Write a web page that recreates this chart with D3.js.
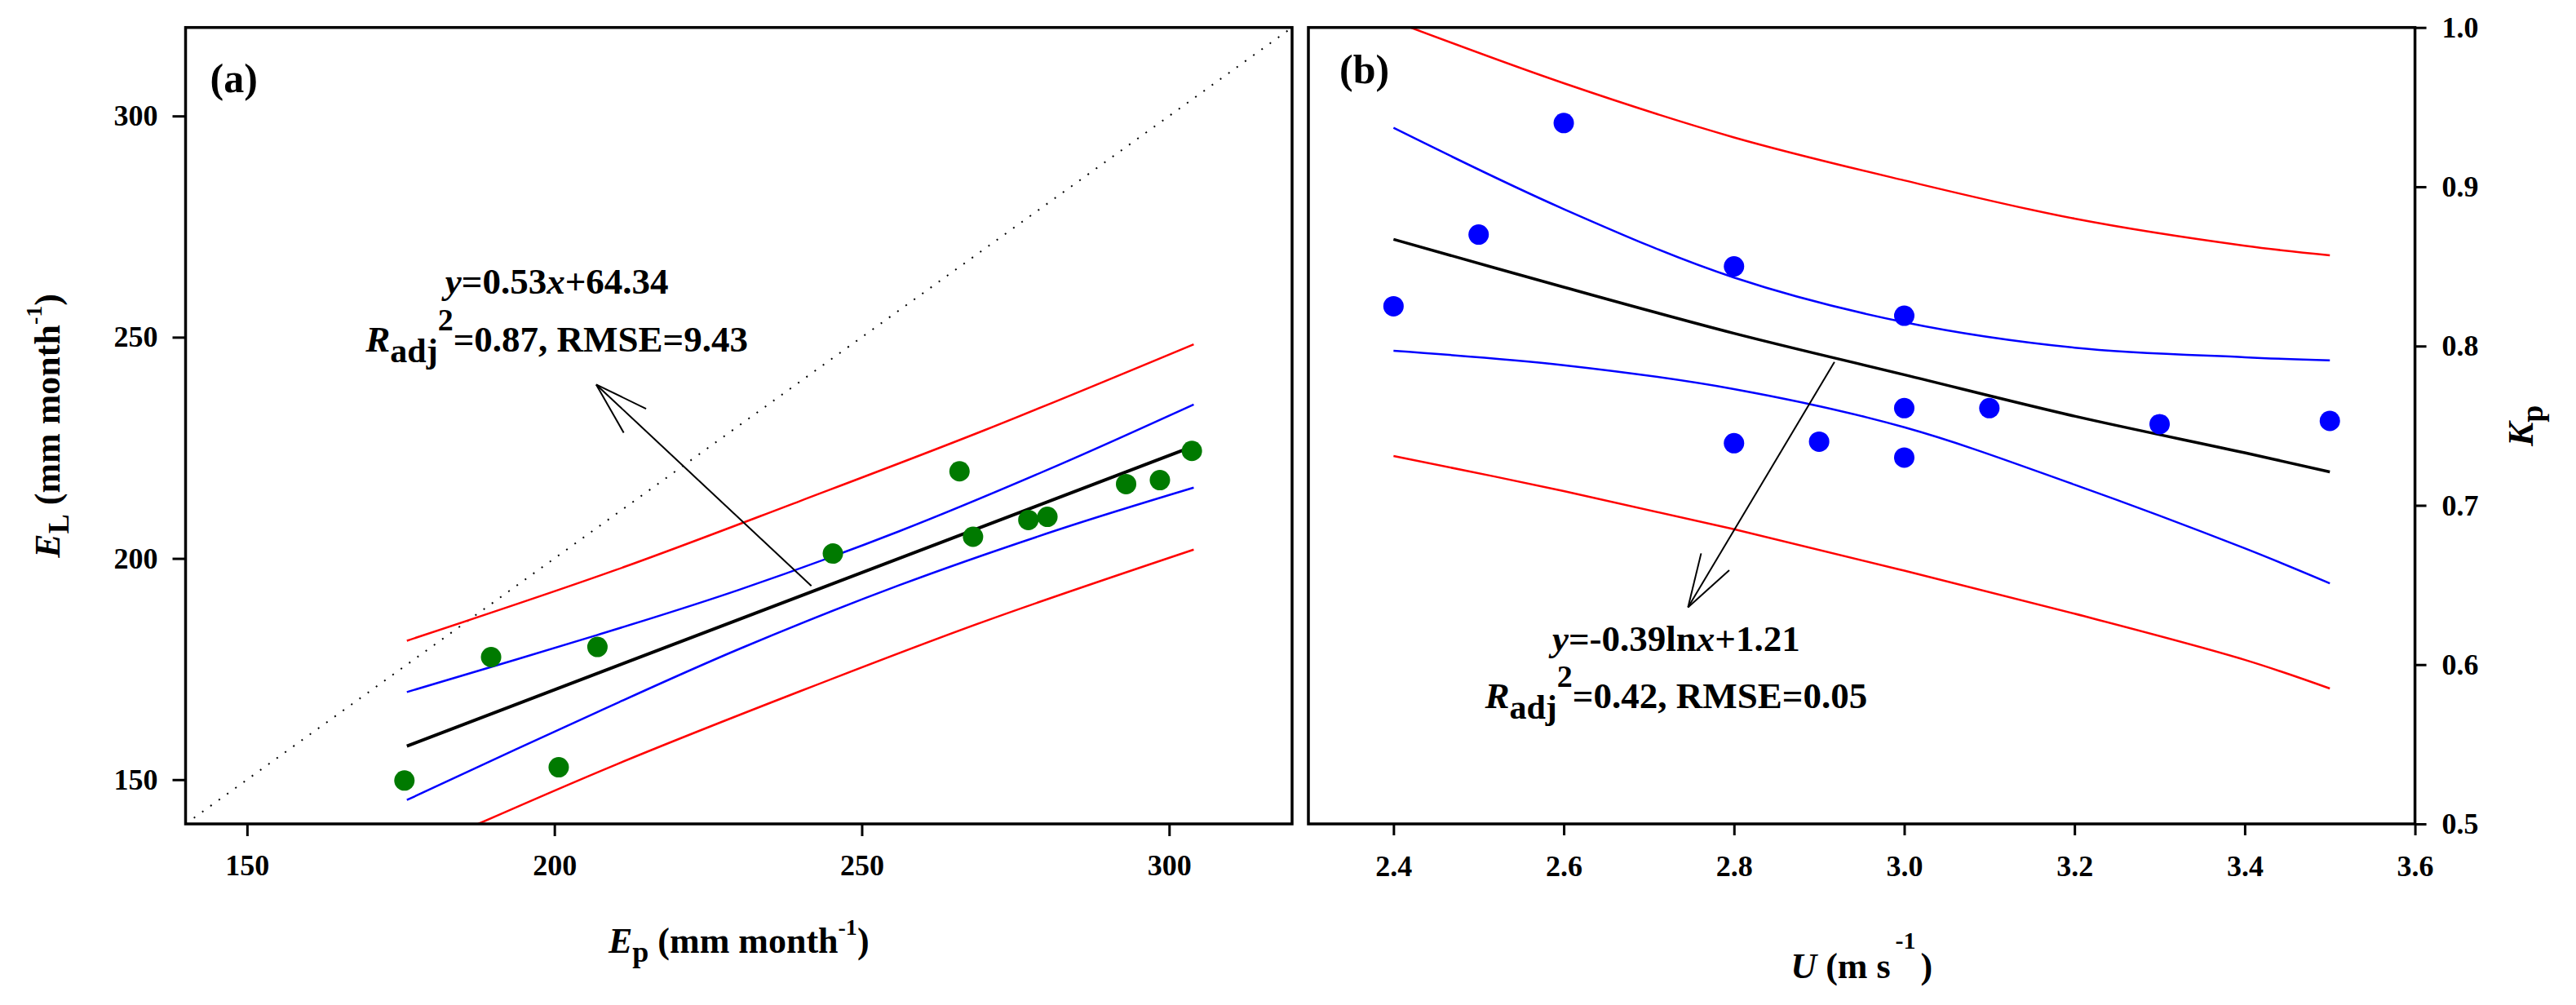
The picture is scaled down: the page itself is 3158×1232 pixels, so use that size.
<!DOCTYPE html>
<html>
<head>
<meta charset="utf-8">
<script src="https://cdn.jsdelivr.net/npm/d3@7"></script>
<style>
  html, body { margin: 0; padding: 0; background: #fff; }
  svg { display: block; }
  text { font-family: "Liberation Serif", "Times New Roman", serif; font-weight: bold; fill: #000; }
  .tick text { font-size: 36px; }
  .tick line { stroke: #000; stroke-width: 3px; }
</style>
</head>
<body>
<svg width="3158" height="1232"></svg>
<script>
// panel (a): E_p vs E_L
const pointsA = [
  [175.6, 149.8], [189.7, 177.7], [200.7, 152.8], [207.0, 180.0],
  [245.3, 201.1], [265.9, 219.7], [268.1, 204.9], [277.1, 208.7],
  [280.2, 209.4], [293.0, 216.8], [298.5, 217.7], [303.7, 224.3]
];
const fitA = [[176, 157.6], [304, 225.4]];
const confUpperA = [[176, 169.8], [207, 182.7], [230, 192.9], [256, 206.1], [282, 221.1], [304, 234.8]];
const confLowerA = [[176, 145.4], [207, 165.3], [230, 179.5], [256, 193.9], [282, 206.5], [304, 216.0]];
const predUpperA = [[176, 181.4], [210, 197.4], [240, 213.0], [270, 229.0], [304, 248.4]];
const predLowerA = [[187.6, 140], [210, 153.4], [240, 170.0], [270, 185.8], [304, 202.0]];
const oneToOne = [[140, 140], [320, 320]];
const xTicksA = [150, 200, 250, 300];
const yTicksA = [150, 200, 250, 300];

// panel (b): U vs Kp
const pointsB = [
  [2.4, 0.825], [2.5, 0.870], [2.6, 0.940], [2.8, 0.850], [2.8, 0.739], [2.9, 0.740],
  [3.0, 0.819], [3.0, 0.761], [3.0, 0.730], [3.1, 0.761], [3.3, 0.751], [3.5, 0.753]
];
const fitB = [[2.4, 0.867], [2.6, 0.837], [2.8, 0.808], [3.0, 0.782], [3.2, 0.756], [3.4, 0.733], [3.5, 0.721]];
const confUpperB = [[2.4, 0.937], [2.6, 0.886], [2.8, 0.843], [3.0, 0.815], [3.2, 0.799], [3.4, 0.793], [3.5, 0.791]];
const confLowerB = [[2.4, 0.797], [2.6, 0.788], [2.8, 0.773], [3.0, 0.749], [3.2, 0.713], [3.4, 0.673], [3.5, 0.651]];
const predUpperB = [[2.4, 1.004], [2.6, 0.965], [2.8, 0.931], [3.0, 0.904], [3.2, 0.880], [3.4, 0.863], [3.5, 0.857]];
const predLowerB = [[2.4, 0.731], [2.6, 0.709], [2.8, 0.685], [3.0, 0.659], [3.2, 0.632], [3.4, 0.603], [3.5, 0.585]];
const xTicksB = [2.4, 2.6, 2.8, 3.0, 3.2, 3.4, 3.6];
const yTicksB = [0.5, 0.6, 0.7, 0.8, 0.9, 1.0];

(function () {
  "use strict";
  const svg = d3.select("svg");
  const top = 33.7, bottom = 1010;
  const smooth = d3.curveCatmullRom.alpha(0.5);

  const xA = d3.scaleLinear().domain([140, 320]).range([227.5, 1584]);
  const yA = d3.scaleLinear().domain([140, 320]).range([bottom, top]);
  const xB = d3.scaleLinear().domain([2.3, 3.6]).range([1604, 2960.6]);
  const yB = d3.scaleLinear().domain([0.5, 1.0]).range([bottom, top]);

  const drawLine = (g, data, x, y, color, w, curve) => {
    g.append("path")
      .datum(data)
      .attr("fill", "none")
      .attr("stroke", color)
      .attr("stroke-width", w)
      .attr("d", d3.line().x((d) => x(d[0])).y((d) => y(d[1])).curve(curve || d3.curveLinear));
  };

  const drawArrow = (g, x0, y0, x1, y1) => {
    g.append("line")
      .attr("x1", x0).attr("y1", y0).attr("x2", x1).attr("y2", y1)
      .attr("stroke", "#000").attr("stroke-width", 2);
    const ang = Math.atan2(y0 - y1, x0 - x1);
    const len = 68, spread = 0.3;
    [-spread, spread].forEach((s) => {
      g.append("line")
        .attr("x1", x1).attr("y1", y1)
        .attr("x2", x1 + len * Math.cos(ang + s))
        .attr("y2", y1 + len * Math.sin(ang + s))
        .attr("stroke", "#000").attr("stroke-width", 2);
    });
  };

  const styleAxis = (g) => {
    g.select(".domain").remove();
    g.selectAll(".tick text").attr("fill", "#000");
  };

  // ---------- panel (a)
  const ga = svg.append("g");
  ga.append("clipPath").attr("id", "clipA").append("rect")
    .attr("x", xA(140)).attr("y", top)
    .attr("width", xA(320) - xA(140)).attr("height", bottom - top);

  ga.append("g")
    .attr("transform", `translate(0,${bottom})`)
    .call(d3.axisBottom(xA).tickValues(xTicksA).tickSize(15).tickPadding(22))
    .call(styleAxis);
  ga.append("g")
    .attr("transform", `translate(${xA(140)},0)`)
    .call(d3.axisLeft(yA).tickValues(yTicksA).tickSize(16).tickPadding(18))
    .call(styleAxis);

  const pa = ga.append("g").attr("clip-path", "url(#clipA)");
  pa.append("path")
    .datum(oneToOne)
    .attr("fill", "none").attr("stroke", "#000").attr("stroke-width", 2)
    .attr("stroke-dasharray", "2,10.5")
    .attr("d", d3.line().x((d) => xA(d[0])).y((d) => yA(d[1])));
  drawLine(pa, predUpperA, xA, yA, "#ff0000", 2.5, smooth);
  drawLine(pa, predLowerA, xA, yA, "#ff0000", 2.5, smooth);
  drawLine(pa, confUpperA, xA, yA, "#0000ff", 2.5, smooth);
  drawLine(pa, confLowerA, xA, yA, "#0000ff", 2.5, smooth);
  drawLine(pa, fitA, xA, yA, "#000", 4);
  pa.selectAll("circle")
    .data(pointsA)
    .enter()
    .append("circle")
    .attr("cx", (d) => xA(d[0]))
    .attr("cy", (d) => yA(d[1]))
    .attr("r", 12.5)
    .attr("fill", "#007a00");

  ga.append("rect")
    .attr("x", xA(140)).attr("y", top)
    .attr("width", xA(320) - xA(140)).attr("height", bottom - top)
    .attr("fill", "none").attr("stroke", "#000").attr("stroke-width", 3.5);

  ga.append("text").attr("x", xA(140) + 30).attr("y", 113)
    .attr("font-size", 50).text("(a)");

  // equation (a)
  const cxA = xA(200.4);
  const eqA1 = ga.append("text").attr("x", cxA).attr("y", yA(259.8))
    .attr("text-anchor", "middle").attr("font-size", 45);
  eqA1.append("tspan").attr("font-style", "italic").text("y");
  eqA1.append("tspan").text("=0.53");
  eqA1.append("tspan").attr("font-style", "italic").text("x");
  eqA1.append("tspan").text("+64.34");

  const eqA2 = ga.append("text").attr("x", cxA).attr("y", yA(246.7))
    .attr("text-anchor", "middle").attr("font-size", 45);
  eqA2.append("tspan").attr("font-style", "italic").text("R");
  eqA2.append("tspan").attr("dy", 13).attr("font-size", 42).text("adj");
  eqA2.append("tspan").attr("dy", -39).attr("font-size", 38).text("2");
  eqA2.append("tspan").attr("dy", 26).text("=0.87, RMSE=9.43");

  drawArrow(ga, xA(241.8), yA(193.8), xA(206.8), yA(239.3));

  // axis titles (a)
  const tA = ga.append("text").attr("x", (xA(140) + xA(320)) / 2).attr("y", 1168)
    .attr("text-anchor", "middle").attr("font-size", 44);
  tA.append("tspan").attr("font-style", "italic").text("E");
  tA.append("tspan").attr("dy", 11).attr("font-size", 36).text("p");
  tA.append("tspan").attr("dy", -11).text(" (mm month");
  tA.append("tspan").attr("dy", -22).attr("font-size", 28).text("-1");
  tA.append("tspan").attr("dy", 22).text(")");

  const lA = ga.append("text")
    .attr("transform", `translate(73,${(top + bottom) / 2}) rotate(-90)`)
    .attr("text-anchor", "middle").attr("font-size", 44);
  lA.append("tspan").attr("font-style", "italic").text("E");
  lA.append("tspan").attr("dy", 11).attr("font-size", 36).text("L");
  lA.append("tspan").attr("dy", -11).text(" (mm month");
  lA.append("tspan").attr("dy", -22).attr("font-size", 28).text("-1");
  lA.append("tspan").attr("dy", 22).text(")");

  // ---------- panel (b)
  const gb = svg.append("g");
  gb.append("clipPath").attr("id", "clipB").append("rect")
    .attr("x", xB(2.3)).attr("y", top)
    .attr("width", xB(3.6) - xB(2.3)).attr("height", bottom - top);

  gb.append("g")
    .attr("transform", `translate(0,${bottom})`)
    .call(d3.axisBottom(xB).tickValues(xTicksB).tickFormat(d3.format(".1f")).tickSize(14).tickPadding(24))
    .call(styleAxis);
  gb.append("g")
    .attr("transform", `translate(${xB(3.6)},0)`)
    .call(d3.axisRight(yB).tickValues(yTicksB).tickFormat(d3.format(".1f")).tickSize(14).tickPadding(19))
    .call(styleAxis);

  const pb = gb.append("g").attr("clip-path", "url(#clipB)");
  drawLine(pb, predUpperB, xB, yB, "#ff0000", 2.5, smooth);
  drawLine(pb, predLowerB, xB, yB, "#ff0000", 2.5, smooth);
  drawLine(pb, confUpperB, xB, yB, "#0000ff", 2.5, smooth);
  drawLine(pb, confLowerB, xB, yB, "#0000ff", 2.5, smooth);
  drawLine(pb, fitB, xB, yB, "#000", 3.5, smooth);
  pb.selectAll("circle")
    .data(pointsB)
    .enter()
    .append("circle")
    .attr("cx", (d) => xB(d[0]))
    .attr("cy", (d) => yB(d[1]))
    .attr("r", 12.5)
    .attr("fill", "#0000ff");

  gb.append("rect")
    .attr("x", xB(2.3)).attr("y", top)
    .attr("width", xB(3.6) - xB(2.3)).attr("height", bottom - top)
    .attr("fill", "none").attr("stroke", "#000").attr("stroke-width", 3.5);

  gb.append("text").attr("x", xB(2.3) + 38).attr("y", 102)
    .attr("font-size", 50).text("(b)");

  // equation (b)
  const cxB = xB(2.732);
  const eqB1 = gb.append("text").attr("x", cxB).attr("y", yB(0.6088))
    .attr("text-anchor", "middle").attr("font-size", 45);
  eqB1.append("tspan").attr("font-style", "italic").text("y");
  eqB1.append("tspan").text("=-0.39ln");
  eqB1.append("tspan").attr("font-style", "italic").text("x");
  eqB1.append("tspan").text("+1.21");

  const eqB2 = gb.append("text").attr("x", cxB).attr("y", yB(0.5727))
    .attr("text-anchor", "middle").attr("font-size", 45);
  eqB2.append("tspan").attr("font-style", "italic").text("R");
  eqB2.append("tspan").attr("dy", 13).attr("font-size", 42).text("adj");
  eqB2.append("tspan").attr("dy", -39).attr("font-size", 38).text("2");
  eqB2.append("tspan").attr("dy", 26).text("=0.42, RMSE=0.05");

  drawArrow(gb, xB(2.918), yB(0.790), xB(2.746), yB(0.636));

  // axis titles (b)
  const tB = gb.append("text").attr("x", (xB(2.3) + xB(3.6)) / 2).attr("y", 1199)
    .attr("text-anchor", "middle").attr("font-size", 44);
  tB.append("tspan").attr("font-style", "italic").text("U");
  tB.append("tspan").text(" (m s");
  tB.append("tspan").attr("dx", 6).attr("dy", -36).attr("font-size", 30).text("-1");
  tB.append("tspan").attr("dx", 6).attr("dy", 36).text(")");

  const lB = gb.append("text")
    .attr("transform", `translate(3105,${(top + bottom) / 2}) rotate(-90)`)
    .attr("text-anchor", "middle").attr("font-size", 44);
  lB.append("tspan").attr("font-style", "italic").text("K");
  lB.append("tspan").attr("dy", 12).attr("font-size", 38).text("p");
})();
</script>
</body>
</html>
